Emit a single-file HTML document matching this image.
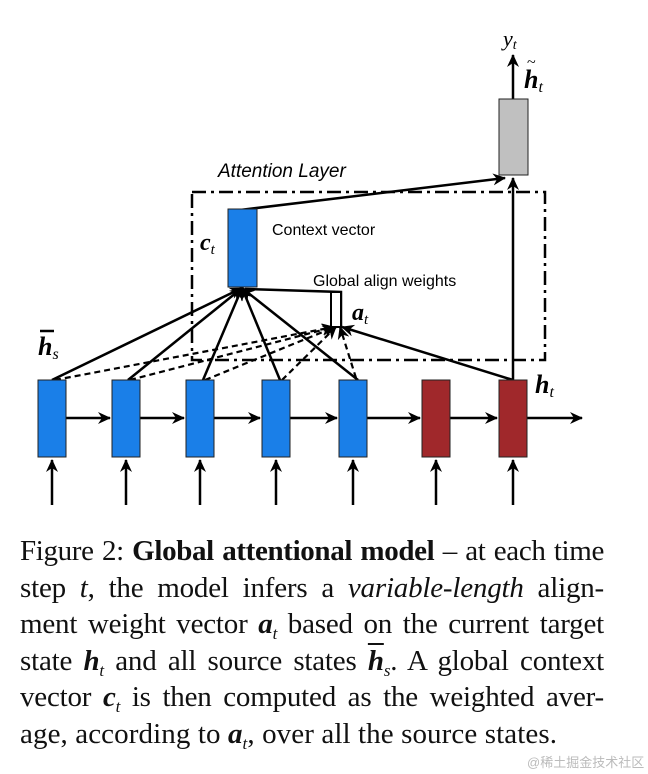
<!DOCTYPE html>
<html><head><meta charset="utf-8"><style>
html,body{margin:0;padding:0;background:#fff;width:648px;height:774px;overflow:hidden;position:relative}
.cap{position:absolute;left:20px;top:533px;width:584px;font-family:"Liberation Serif",serif;font-size:29px;line-height:36.6px;text-align:justify;color:#111}
.cap p{margin:0;height:36.6px;text-align-last:justify;white-space:nowrap;letter-spacing:-0.2px}
.cap p.first{letter-spacing:-0.35px}
.cap p.last{text-align-last:left;letter-spacing:0.1px}
.m{font-weight:bold;font-style:italic}
.s{font-size:17px;font-style:italic;position:relative;top:6px;line-height:0}
.wm{position:absolute;left:527px;top:752px;font-family:"Liberation Sans","Noto Sans CJK SC",sans-serif;font-size:13px;color:#bbb}
</style></head><body>
<svg width="648" height="530" style="position:absolute;left:0;top:0" font-family="Liberation Sans, sans-serif">
<defs><marker id="a" markerWidth="13" markerHeight="12" refX="12" refY="6" orient="auto" markerUnits="userSpaceOnUse"><path d="M0,0 L13,6 L0,12 L4,6z" fill="#000"/></marker></defs>
<g stroke="#000" stroke-width="2.5" fill="none">
<rect x="192" y="192" width="353" height="168" stroke-dasharray="14,5,3,5"/>
</g>
<g stroke="#000" stroke-width="2.5" marker-end="url(#a)">
<line x1="52" y1="505" x2="52" y2="460"/><line x1="126" y1="505" x2="126" y2="460"/><line x1="200" y1="505" x2="200" y2="460"/><line x1="276" y1="505" x2="276" y2="460"/><line x1="353" y1="505" x2="353" y2="460"/><line x1="436" y1="505" x2="436" y2="460"/><line x1="513" y1="505" x2="513" y2="460"/>
<line x1="66" y1="418" x2="110" y2="418"/><line x1="140" y1="418" x2="184" y2="418"/><line x1="214" y1="418" x2="260" y2="418"/><line x1="290" y1="418" x2="337" y2="418"/><line x1="367" y1="418" x2="420" y2="418"/><line x1="450" y1="418" x2="497" y2="418"/><line x1="527" y1="418" x2="582" y2="418"/>
<line x1="52" y1="380" x2="242" y2="288"/><line x1="128" y1="380" x2="242" y2="288"/><line x1="203" y1="380" x2="242" y2="288"/><line x1="280" y1="380" x2="242" y2="288"/><line x1="358" y1="380" x2="242" y2="288"/>
<line x1="513" y1="380" x2="342" y2="327"/>
<line x1="513" y1="380" x2="513" y2="178"/>
<line x1="240" y1="210" x2="505" y2="178"/>
<line x1="513" y1="99" x2="513" y2="55"/>
</g>
<g stroke="#000" stroke-width="2.2" stroke-dasharray="6,4" marker-end="url(#a)">
<line x1="55" y1="380" x2="334" y2="327"/><line x1="130" y1="380" x2="334" y2="327"/><line x1="205" y1="380" x2="335" y2="327"/><line x1="282" y1="380" x2="336" y2="327"/><line x1="356" y1="378" x2="340" y2="327"/>
</g>
<polyline points="245,289 341,292 341,327" stroke="#000" stroke-width="2.5" fill="none"/>
<rect x="331" y="292" width="10" height="35" fill="#fff" stroke="#000" stroke-width="2"/>
<g stroke="#222" stroke-width="1">
<rect x="38" y="380" width="28" height="77" fill="#1a7fe8"/><rect x="112" y="380" width="28" height="77" fill="#1a7fe8"/><rect x="186" y="380" width="28" height="77" fill="#1a7fe8"/><rect x="262" y="380" width="28" height="77" fill="#1a7fe8"/><rect x="339" y="380" width="28" height="77" fill="#1a7fe8"/>
<rect x="422" y="380" width="28" height="77" fill="#a0282b"/><rect x="499" y="380" width="28" height="77" fill="#a0282b"/>
<rect x="228" y="209" width="29" height="78" fill="#1a7fe8"/>
<rect x="499" y="99" width="29" height="76" fill="#c0c0c0"/>
</g>
<text x="218" y="177" font-size="19" font-style="italic">Attention Layer</text>
<text x="272" y="235" font-size="16">Context vector</text>
<text x="313" y="286" font-size="16">Global align weights</text>
<g font-family="Liberation Serif, serif" font-weight="bold" font-style="italic">
<text x="200" y="250" font-size="24">c<tspan font-size="15" font-weight="normal" dy="4">t</tspan></text>
<text x="352" y="320" font-size="24">a<tspan font-size="15" font-weight="normal" dy="4">t</tspan></text>
<text x="38" y="355" font-size="26">h<tspan font-size="16" font-weight="normal" dy="4">s</tspan></text>
<line x1="40" y1="331" x2="54" y2="331" stroke="#000" stroke-width="2.5"/>
<text x="535" y="393" font-size="26">h<tspan font-size="16" font-weight="normal" dy="4">t</tspan></text>
<text x="524" y="88" font-size="26">h<tspan font-size="16" font-weight="normal" dy="4">t</tspan></text>
<text x="527" y="67" font-size="16" font-weight="normal" font-style="normal">~</text>
<text x="503" y="46" font-size="22" font-weight="normal">y<tspan font-size="14" dy="3">t</tspan></text>
</g>
</svg>
<div class="cap">
<p class="first">Figure 2: <b>Global attentional model</b> – at each time</p>
<p>step <i>t</i>, the model infers a <i>variable-length</i> align-</p>
<p>ment weight vector <span class="m">a</span><span class="s">t</span> based on the current target</p>
<p>state <span class="m">h</span><span class="s">t</span> and all source states <span class="m" style="text-decoration:overline">h</span><span class="s">s</span>. A global context</p>
<p>vector <span class="m">c</span><span class="s">t</span> is then computed as the weighted aver-</p>
<p class="last">age, according to <span class="m">a</span><span class="s">t</span>, over all the source states.</p>
</div>
<div class="wm">@稀土掘金技术社区</div>
</body></html>
